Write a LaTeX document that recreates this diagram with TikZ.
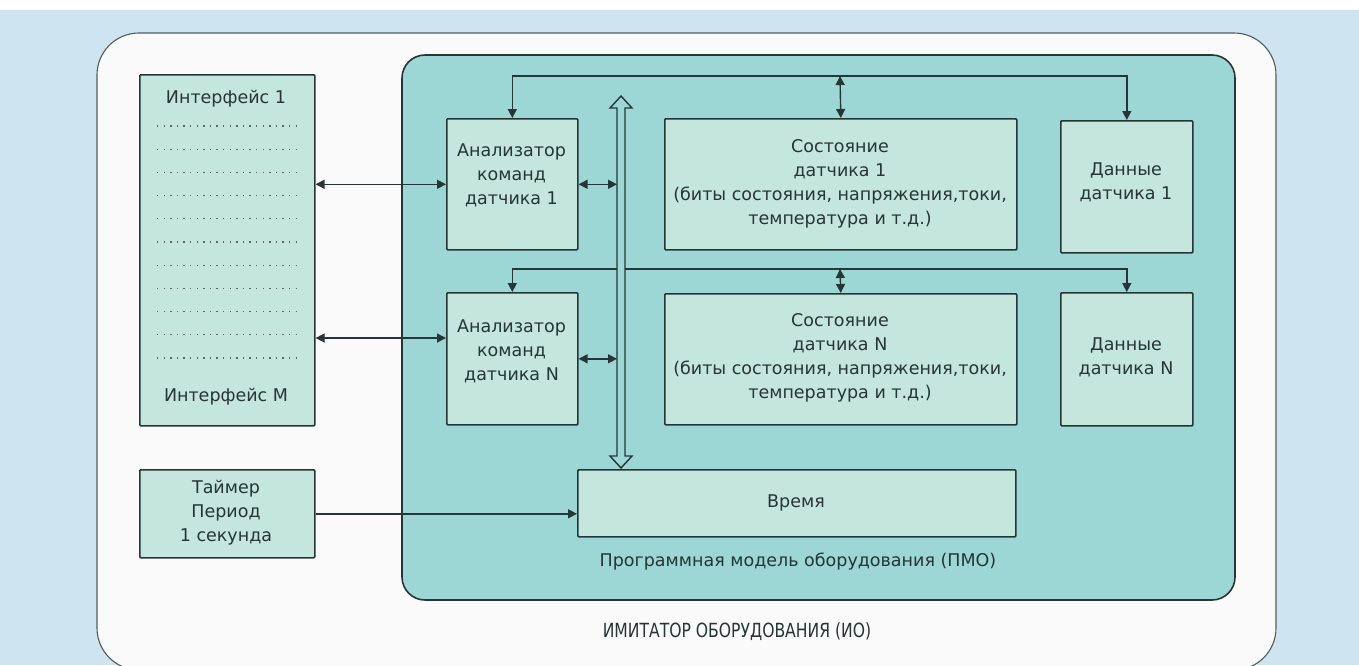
\documentclass[tikz,border=0pt]{standalone}
\usepackage{fontspec}
\setmainfont{DejaVu Sans}
\newfontfamily\condfont[FakeStretch=0.8]{DejaVu Sans}
\usetikzlibrary{arrows.meta}
\definecolor{bgblue}{HTML}{CEE4F0}
\definecolor{tealbg}{HTML}{9CD6D5}
\definecolor{mint}{HTML}{C4E6DC}
\definecolor{ink}{HTML}{263535}
\definecolor{paper}{HTML}{FAFAFA}
\begin{document}
\begin{tikzpicture}[x=1pt,y=-1pt,
  box/.style={draw=ink, line width=1.6pt, fill=mint, rounded corners=1pt, anchor=north west, inner sep=0pt},
  txt/.style={align=center, font=\fontsize{17.5}{24}\selectfont, text=ink, inner sep=0pt},
  conn/.style={draw=ink, line width=1.4pt},
  endtip/.style={-{Triangle[length=9pt,width=9pt]}},
  bothtips/.style={{Triangle[length=9pt,width=9pt]}-{Triangle[length=9pt,width=9pt]}},
  dotrow/.style={draw=ink!75, line width=1.3pt, dash pattern=on 1.3pt off 5.3pt}
]
% background
\useasboundingbox (0,0) rectangle (1359,665);
\fill[bgblue] (0,0) rectangle (1359,665);
\fill[white] (0,0) rectangle (1359,10);
% outer frame
\draw[fill=paper, draw=ink!80, line width=1.1pt, rounded corners=42pt] (97,33) rectangle (1276,670);
% PMO area
\draw[fill=tealbg, draw=ink, line width=1.6pt, rounded corners=23pt] (402,55) rectangle (1235,600);

% boxes
\node[box, minimum width=175pt, minimum height=351pt] (iface) at (139,74) {};
\node[box, minimum width=175pt, minimum height=88pt] (timer) at (139,469) {};
\node[box, minimum width=131pt, minimum height=131pt] (an1) at (446,118) {};
\node[box, minimum width=131pt, minimum height=132pt] (anN) at (446,292) {};
\node[box, minimum width=352pt, minimum height=131pt] (st1) at (664,118) {};
\node[box, minimum width=352pt, minimum height=131pt] (stN) at (664,293) {};
\node[box, minimum width=132pt, minimum height=132pt] (d1) at (1060,120) {};
\node[box, minimum width=132pt, minimum height=133pt] (dN) at (1060,292) {};
\node[box, minimum width=438pt, minimum height=67pt] (time) at (577,469) {};

% interface dotted rows
\foreach \i in {0,...,10} {
  \draw[dotrow] (157,{126+23.2*\i}) -- (297,{126+23.2*\i});
}

% texts
\node[txt] (if1t) at (226,99) {Интерфейс 1};
\node[txt] (ifMt) at (226,397) {Интерфейс М};
\node[txt] (timt) at (226,513) {Таймер\\Период\\1 секунда};
\node[txt] (an1t) at (511.5,175) {Анализатор\\команд\\датчика 1};
\node[txt] (anNt) at (511.5,351) {Анализатор\\команд\\датчика N};
\node[txt] (st1t) at (840,184) {Состояние\\датчика 1\\(биты состояния, напряжения,токи,\\температура и т.д.)};
\node[txt] (stNt) at (840,358) {Состояние\\датчика N\\(биты состояния, напряжения,токи,\\температура и т.д.)};
\node[txt] (d1t) at (1126,182) {Данные\\датчика 1};
\node[txt] (dNt) at (1126,357) {Данные\\датчика N};
\node[txt] (timet) at (796,503) {Время};
\node[txt] (pmo) at (798,562) {Программная модель оборудования (ПМО)};
\node[txt, font=\condfont\fontsize{19.5}{24}\selectfont] (io) at (737,632) {ИМИТАТОР ОБОРУДОВАНИЯ (ИО)};

% coordinates
\coordinate (top1) at (840,76);
\coordinate (top2) at (840,269);
\coordinate (busL) at (617,0);
\coordinate (yM) at (0,338);

% loops
\draw[conn, bothtips] (an1.north) |- (top1) -| (d1.north);
\draw[conn, bothtips] (top1) -- (st1.north);
\draw[conn, bothtips] (anN.north) |- (top2) -| (dN.north);
\draw[conn, bothtips] (top2) -- (stN.north);

% interface links
\draw[conn, bothtips] (an1.west -| iface.east) -- (an1.west);
\draw[conn, bothtips] (yM -| iface.east) -- (yM -| anN.west);

% analyzer to bus
\draw[conn, bothtips] (an1.east) -- (an1.east -| busL);
\draw[conn, bothtips] (anN.east) -- (anN.east -| busL);

% timer to time
\draw[conn, endtip] (timer.east) -- (timer.east -| time.west);

% bus (hollow double arrow)
\draw[fill=tealbg, draw=ink, line width=1.4pt, line join=miter]
  (617,456) -- (617,108) -- (610,108) -- (621,96) -- (632,108) -- (625,108)
  -- (625,456) -- (632,456) -- (621,468) -- (610,456) -- cycle;
\end{tikzpicture}
\end{document}
